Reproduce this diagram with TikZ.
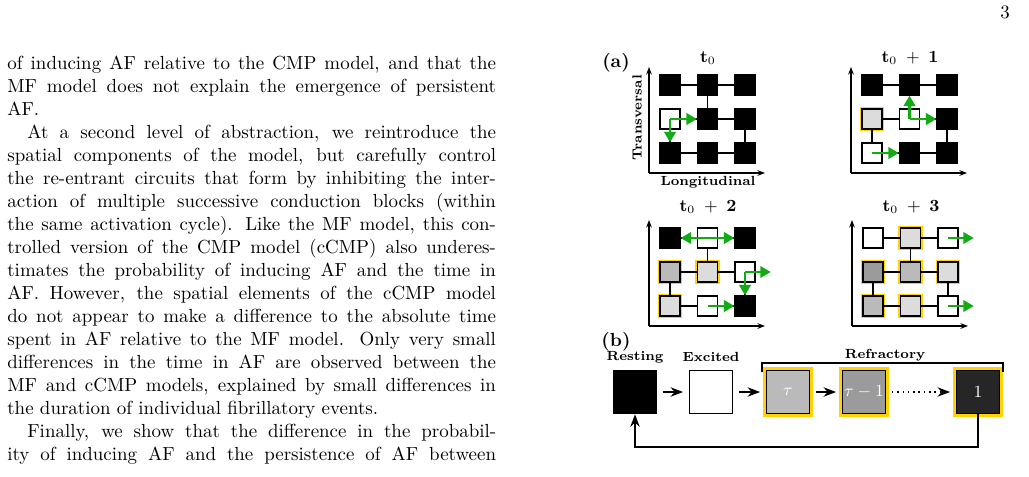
\documentclass[tikz,border=0pt]{standalone}
\usepackage{amsmath}
\usetikzlibrary{arrows.meta}
\definecolor{gold}{RGB}{255,210,0}
\definecolor{grn}{RGB}{20,170,20}
\definecolor{gA}{RGB}{220,220,220}
\definecolor{gB}{RGB}{186,186,186}
\definecolor{gC}{RGB}{155,155,155}
\definecolor{gD}{RGB}{38,38,38}

% a cell of a grid: panel, row, column, panel offsets, style
\newcommand{\cellat}[6]{\node[cell,#6] (#1#2#3) at (670+37.5*#3-37.5+#4,85+34*#2-34+#5) {};}
\newcommand{\links}[1]{\draw[link] (#111)--(#112) (#112)--(#113) (#112)--(#122)
  (#121)--(#122) (#122)--(#123) (#121)--(#131) (#123)--(#133)
  (#131)--(#132) (#132)--(#133);}
\newcommand{\axes}[3]{\coordinate (#1o) at (649+#2,173+#3);
  \coordinate (#1y) at (649+#2,67+#3); \coordinate (#1x) at (765+#2,173+#3);
  \draw[axis] (#1o) -- (#1y); \draw[axis] (#1o) -- (#1x);}

\begin{document}
\begin{tikzpicture}[x=0.528pt,y=-0.528pt,>=Stealth]
  \tikzstyle{line}=[anchor=base west,inner sep=0pt]
  \tikzstyle{cell}=[draw=black,line width=0.7pt,minimum size=10.5pt,inner sep=0pt]
  \tikzstyle{rest}=[fill=black]
  \tikzstyle{exc}=[fill=white]
  \tikzstyle{ref}=[preaction={draw=gold,line width=2.4pt}]
  \tikzstyle{rA}=[ref,fill=gA]
  \tikzstyle{rB}=[ref,fill=gB]
  \tikzstyle{rC}=[ref,fill=gC]
  \tikzstyle{link}=[line width=0.7pt]
  \tikzstyle{axis}=[line width=0.7pt,-{Stealth[length=4pt]}]
  \tikzstyle{wave}=[draw=grn,line width=1.3pt,-{Triangle[length=5.5pt,width=6pt]}]
  \tikzstyle{big}=[draw=black,line width=0.8pt,minimum size=22.7pt,inner sep=0pt,
                   text=white,font=\small]
  \tikzstyle{bref}=[preaction={draw=gold,line width=3.4pt}]
  \tikzstyle{flow}=[line width=0.8pt,->,shorten >=3pt,shorten <=3pt]
  \tikzstyle{tag}=[font=\scriptsize\bfseries]
  \tikzstyle{title}=[font=\small]

  \useasboundingbox (0,0) rectangle (1029,476);
  \node (page) at (1005,12) {3};

  % column text
  \node[line] (l0) at (7,69) {\makebox[258pt][s]{of inducing AF relative to the CMP model, and that the}};
  \node[line] (l1) at (7,92) {\makebox[258pt][s]{MF model does not explain the emergence of persistent}};
  \node[line] (l2) at (7,115) {AF.};
  \node[line] (l3) at (27,138) {\makebox[247.5pt][s]{At a second level of abstraction, we reintroduce the}};
  \node[line] (l4) at (7,161) {\makebox[258pt][s]{spatial components of the model, but carefully control}};
  \node[line] (l5) at (7,184) {\makebox[258pt][s]{the re-entrant circuits that form by inhibiting the inter-}};
  \node[line] (l6) at (7,207) {\makebox[258pt][s]{action of multiple successive conduction blocks (within}};
  \node[line] (l7) at (7,230) {\makebox[258pt][s]{the same activation cycle). Like the MF model, this con-}};
  \node[line] (l8) at (7,253) {\makebox[258pt][s]{trolled version of the CMP model (cCMP) also underes-}};
  \node[line] (l9) at (7,276) {\makebox[258pt][s]{timates the probability of inducing AF and the time in}};
  \node[line] (l10) at (7,299) {\makebox[258pt][s]{AF. However, the spatial elements of the cCMP model}};
  \node[line] (l11) at (7,322) {\makebox[258pt][s]{do not appear to make a difference to the absolute time}};
  \node[line] (l12) at (7,345) {\makebox[258pt][s]{spent in AF relative to the MF model. Only very small}};
  \node[line] (l13) at (7,368) {\makebox[258pt][s]{differences in the time in AF are observed between the}};
  \node[line] (l14) at (7,391) {\makebox[258pt][s]{MF and cCMP models, explained by small differences in}};
  \node[line] (l15) at (7,414) {the duration of individual fibrillatory events.};
  \node[line] (l16) at (27,437) {\makebox[247.5pt][s]{Finally, we show that the difference in the probabil-}};
  \node[line] (l17) at (7,460) {\makebox[258pt][s]{ity of inducing AF and the persistence of AF between}};

  % (a) grids
  \node[font=\bfseries] (lbla) at (616,63) {(a)};
  \node[font=\bfseries] (lblb) at (616,342) {(b)};
  \axes{A}{0}{0} \axes{B}{202}{0} \axes{C}{0}{153} \axes{D}{203}{153}
  \node[tag,rotate=90] (trans) at (637,118) {Transversal};
  \node[tag] (longi) at (708,182) {Longitudinal};
  \node[title] (ta) at (708,58) {$\mathbf{t}_0$};
  \node[title] (tb) at (910,58) {$\mathbf{t}_0\;+\;\mathbf{1}$};
  \node[title] (tc) at (708,207) {$\mathbf{t}_0\;+\;\mathbf{2}$};
  \node[title] (td) at (911,207) {$\mathbf{t}_0\;+\;\mathbf{3}$};

  \cellat{a}{1}{1}{0}{0}{rest} \cellat{a}{1}{2}{0}{0}{rest} \cellat{a}{1}{3}{0}{0}{rest}
  \cellat{a}{2}{1}{0}{0}{exc}  \cellat{a}{2}{2}{0}{0}{rest} \cellat{a}{2}{3}{0}{0}{rest}
  \cellat{a}{3}{1}{0}{0}{rest} \cellat{a}{3}{2}{0}{0}{rest} \cellat{a}{3}{3}{0}{0}{rest}

  \cellat{b}{1}{1}{202}{0}{rest} \cellat{b}{1}{2}{202}{0}{rest} \cellat{b}{1}{3}{202}{0}{rest}
  \cellat{b}{2}{1}{202}{0}{rA}   \cellat{b}{2}{2}{202}{0}{exc}  \cellat{b}{2}{3}{202}{0}{rest}
  \cellat{b}{3}{1}{202}{0}{exc}  \cellat{b}{3}{2}{202}{0}{rest} \cellat{b}{3}{3}{202}{0}{rest}

  \cellat{c}{1}{1}{0}{153}{rest} \cellat{c}{1}{2}{0}{153}{exc} \cellat{c}{1}{3}{0}{153}{rest}
  \cellat{c}{2}{1}{0}{153}{rB}   \cellat{c}{2}{2}{0}{153}{rA}  \cellat{c}{2}{3}{0}{153}{exc}
  \cellat{c}{3}{1}{0}{153}{rA}   \cellat{c}{3}{2}{0}{153}{exc} \cellat{c}{3}{3}{0}{153}{rest}

  \cellat{d}{1}{1}{203}{153}{exc} \cellat{d}{1}{2}{203}{153}{rA} \cellat{d}{1}{3}{203}{153}{exc}
  \cellat{d}{2}{1}{203}{153}{rC}  \cellat{d}{2}{2}{203}{153}{rB} \cellat{d}{2}{3}{203}{153}{rA}
  \cellat{d}{3}{1}{203}{153}{rB}  \cellat{d}{3}{2}{203}{153}{rA} \cellat{d}{3}{3}{203}{153}{exc}

  \links{a} \links{b} \links{c} \links{d}

  \coordinate (c23o) at ([xshift=8pt]c23.east);
  \coordinate (d13o) at ([xshift=8pt]d13.east);
  \coordinate (d33o) at ([xshift=8pt]d33.east);
  \draw[wave] (a21.center) -- (a22.west);
  \draw[wave] (a21.center) -- (a31.north);
  \draw[wave] (b22.center) -- (b12.south);
  \draw[wave] (b22.center) -- (b23.west);
  \draw[wave] (b31.center) -- (b32.west);
  \draw[wave] (c12.center) -- (c11.east);
  \draw[wave] (c12.center) -- (c13.west);
  \draw[wave] (c23.center) -- (c23o);
  \draw[wave] (c23.center) -- (c33.north);
  \draw[wave] (c32.center) -- (c33.west);
  \draw[wave] (d13.center) -- (d13o);
  \draw[wave] (d33.center) -- (d33o);

  % (b) state cycle
  \node[big,fill=black] (resting) at (635,392) {};
  \node[big,fill=white] (excited) at (711,392) {};
  \node[big,bref,fill=gB] (tau) at (788,392) {$\tau$};
  \node[big,bref,fill=gC] (taum) at (864,392) {$\tau-1$};
  \node[big,bref,fill=gD] (one) at (978,392) {1};
  \node[tag] (lrest) at (635,357) {Resting};
  \node[tag] (lexc) at (711,357) {Excited};
  \node[tag] (lref) at (885,355) {Refractory};
  \coordinate (brl) at (762,363); \coordinate (brr) at (1003,363);
  \draw[line width=0.8pt] ([yshift=-5pt]brl) -- (brl) -- (brr) -- ([yshift=-5pt]brr);
  \draw[flow] (resting) -- (excited);
  \draw[flow] (excited) -- (tau);
  \draw[flow] (tau) -- (taum);
  \draw[flow,dotted] (taum) -- (one);
  \coordinate (back) at (978,447);
  \draw[line width=0.8pt,->] (one.south) -- (back) -| (resting.south);
\end{tikzpicture}
\end{document}
